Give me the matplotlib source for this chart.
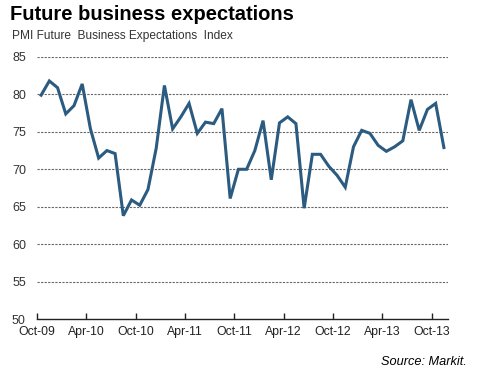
import numpy as np
import matplotlib.pyplot as plt

# PMI Future Business Expectations Index, monthly Oct-09 .. Nov-13
months = ['Oct-09', 'Nov-09', 'Dec-09', 'Jan-10', 'Feb-10', 'Mar-10', 'Apr-10', 'May-10', 'Jun-10', 'Jul-10',
          'Aug-10', 'Sep-10', 'Oct-10', 'Nov-10', 'Dec-10', 'Jan-11', 'Feb-11', 'Mar-11', 'Apr-11', 'May-11',
          'Jun-11', 'Jul-11', 'Aug-11', 'Sep-11', 'Oct-11', 'Nov-11', 'Dec-11', 'Jan-12', 'Feb-12', 'Mar-12',
          'Apr-12', 'May-12', 'Jun-12', 'Jul-12', 'Aug-12', 'Sep-12', 'Oct-12', 'Nov-12', 'Dec-12', 'Jan-13',
          'Feb-13', 'Mar-13', 'Apr-13', 'May-13', 'Jun-13', 'Jul-13', 'Aug-13', 'Sep-13', 'Oct-13', 'Nov-13']
index_values = [79.9, 81.8, 80.9, 77.4, 78.5, 81.4, 75.4, 71.5, 72.5, 72.1,
                63.8, 65.9, 65.2, 67.3, 72.8, 81.2, 75.4, 77.0, 78.8, 74.8,
                76.3, 76.1, 78.1, 66.1, 70.0, 70.0, 72.5, 76.5, 68.6, 76.2,
                77.0, 76.1, 64.8, 72.0, 72.0, 70.4, 69.2, 67.6, 73.0, 75.2,
                74.8, 73.2, 72.4, 73.0, 73.8, 79.3, 75.2, 78.0, 78.8, 72.9]
tick_labels = ['Oct-09', 'Apr-10', 'Oct-10', 'Apr-11', 'Oct-11', 'Apr-12', 'Oct-12', 'Apr-13', 'Oct-13']
y_ticks = [50, 55, 60, 65, 70, 75, 80, 85]

plt.rcParams['font.family'] = ['Liberation Sans', 'DejaVu Sans']

fig = plt.figure(figsize=(4.8, 3.76), dpi=100)
ax = fig.add_axes([37 / 480, 1 - 319 / 376, 411 / 480, 262 / 376])

# categories sit between tick marks (Excel style)
x = np.arange(len(index_values)) + 0.5
ax.plot(x, index_values, color='#2b5b80', linewidth=2.2, solid_joinstyle='miter', zorder=3)

ax.set_xlim(0, len(index_values))
ax.set_ylim(50, 85)
ax.set_yticks(y_ticks)
ax.set_xticks([months.index(m) for m in tick_labels])
ax.set_xticklabels(tick_labels)

for yv in y_ticks[1:]:
    ax.axhline(yv, color='#666666', linewidth=0.8, linestyle=(0, (2, 1.2)), zorder=1)

for s in ['top', 'right', 'left']:
    ax.spines[s].set_visible(False)
ax.spines['bottom'].set_color('#222222')
ax.spines['bottom'].set_linewidth(1.0)
ax.tick_params(axis='x', direction='in', length=4, width=1, color='#222222',
               labelsize=8.8, labelcolor='#222222', pad=5)
ax.tick_params(axis='y', length=0, labelsize=9, labelcolor='#333333', pad=8)

fig.text(10 / 480, 1 - 14 / 376, 'Future business expectations', fontsize=14.5, fontweight='bold',
         va='center', ha='left', color='black')
fig.text(12 / 480, 1 - 36 / 376, 'PMI Future  Business Expectations  Index', fontsize=8.6,
         va='center', ha='left', color='#333333')
fig.text(467 / 480, 1 - 362 / 376, 'Source: Markit.', fontsize=9.2, fontstyle='italic',
         va='center', ha='right', color='black')

fig.savefig('out.png', dpi=100, facecolor='white')
